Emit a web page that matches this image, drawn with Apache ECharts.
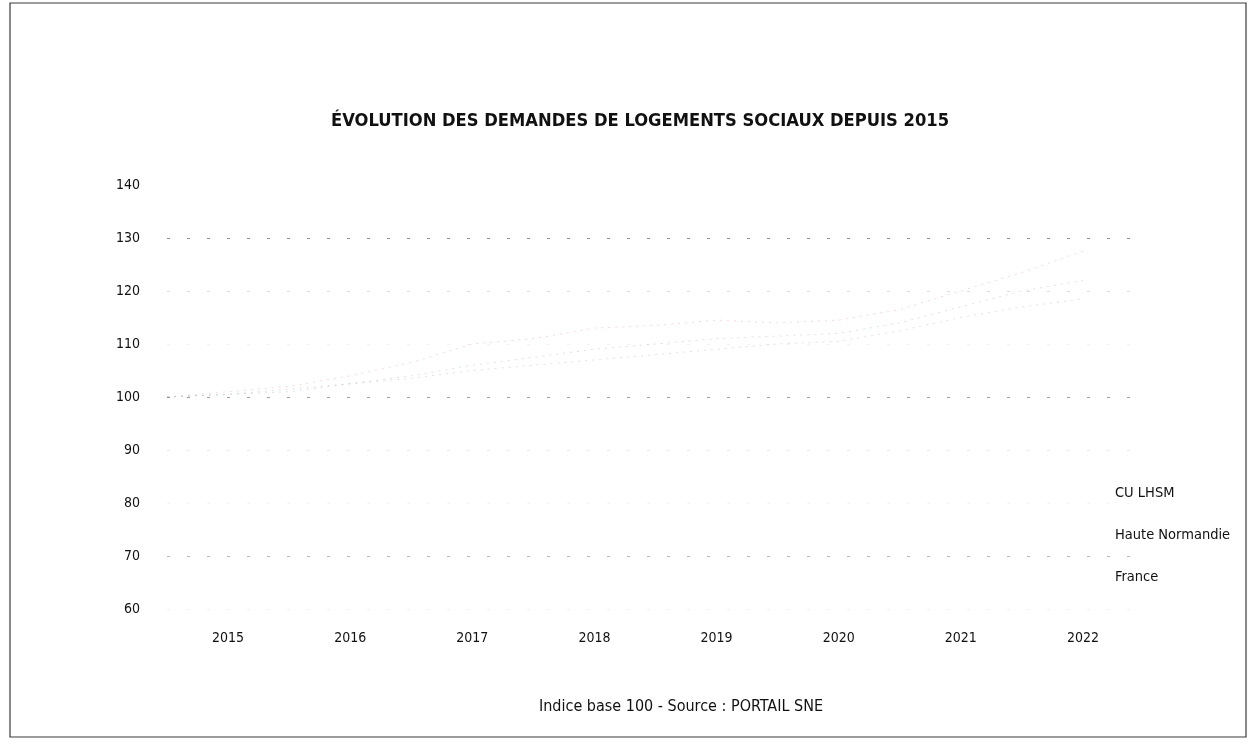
<!DOCTYPE html>
<html>
<head>
<meta charset="utf-8">
<script src="https://cdn.jsdelivr.net/npm/echarts@6/dist/echarts.min.js"></script>
<style>
  html, body { margin: 0; padding: 0; background: #fff; }
  #chart { width: 1250px; height: 754px; }
</style>
</head>
<body>
<div id="chart"></div>
<script>
// Year labels along the bottom axis
const years = ['2015', '2016', '2017', '2018', '2019', '2020', '2021', '2022'];
// Half-year sampling points (decimal years)
const periods = [2015.0, 2015.5, 2016.0, 2016.5, 2017.0, 2017.5, 2018.0, 2018.5,
                 2019.0, 2019.5, 2020.0, 2020.5, 2021.0, 2021.5, 2022.0, 2022.5];
// Index of housing requests, base 100 in 2015
const cuLhsm = [100, 101, 102, 104, 106.5, 110, 111, 113, 113.5, 114.5, 114, 114.5, 116.5, 120, 123.5, 127.5];
const hauteNormandie = [100, 100.5, 101, 102.5, 104, 106, 107.5, 109, 110, 111, 111.5, 112, 114, 117, 120, 122];
const france = [100, 100.5, 101.5, 102.5, 103.5, 105, 106, 107, 108, 109, 110, 110.5, 112.5, 115, 117, 118.5];
const seriesNames = ['CU LHSM', 'Haute Normandie', 'France'];
const yTicks = { min: 60, max: 140, step: 10 };

const FONT = '"Liberation Sans Narrow", "DejaVu Sans Condensed", "Noto Sans", sans-serif';
const pair = vals => periods.map((p, i) => [p, vals[i]]);

const chart = echarts.init(document.getElementById('chart'), null, { renderer: 'canvas' });

const lineStyleFor = color => ({ color: color, width: 1, opacity: 0.22, type: [2, 5] });

chart.setOption({
  backgroundColor: '#ffffff',
  animation: false,
  title: [
    {
      text: 'ÉVOLUTION DES DEMANDES DE LOGEMENTS SOCIAUX DEPUIS 2015',
      left: 326,
      top: 107,
      textStyle: { fontFamily: FONT, fontSize: 18.2, fontWeight: 'bold', color: '#111111' }
    },
    {
      text: 'Indice base 100 - Source : PORTAIL SNE',
      left: 534,
      top: 694,
      textStyle: { fontFamily: FONT, fontSize: 16, fontWeight: 'normal', color: '#111111' }
    }
  ],
  legend: {
    orient: 'vertical',
    left: 1110,
    top: 481,
    itemWidth: 0,
    itemHeight: 0,
    itemGap: 27,
    icon: 'rect',
    data: seriesNames,
    textStyle: { fontFamily: FONT, fontSize: 14.5, color: '#111111', padding: [0, 0, 0, -5] }
  },
  grid: { left: 167, right: 106, top: 185, bottom: 145 },
  xAxis: [
    {
      type: 'category',
      data: years,
      boundaryGap: true,
      axisLine: { show: false },
      axisTick: { show: false },
      splitLine: { show: false },
      axisLabel: { fontFamily: FONT, fontSize: 14, color: '#111111', margin: 22 }
    },
    {
      type: 'value',
      min: 2015,
      max: 2023,
      show: false
    }
  ],
  yAxis: {
    type: 'value',
    min: yTicks.min,
    max: yTicks.max,
    interval: yTicks.step,
    axisLine: { show: false },
    axisTick: { show: false },
    axisLabel: { fontFamily: FONT, fontSize: 14, color: '#111111', margin: 27 },
    splitLine: {
      show: true,
      lineStyle: {
        type: [3, 17],
        width: 1,
        color: ['#f2f2f2', '#b5b5b5', '#f4f4f4', '#e8e8e8', '#9a9a9a', '#f2f2f2', '#dcdcdc', '#8f8f8f', '#ffffff']
      }
    }
  },
  series: [
    {
      name: seriesNames[0], type: 'line', xAxisIndex: 1, data: pair(cuLhsm),
      showSymbol: false, color: '#d9534f', lineStyle: lineStyleFor('#d9534f')
    },
    {
      name: seriesNames[1], type: 'line', xAxisIndex: 1, data: pair(hauteNormandie),
      showSymbol: false, color: '#4a7fc1', lineStyle: lineStyleFor('#4a7fc1')
    },
    {
      name: seriesNames[2], type: 'line', xAxisIndex: 1, data: pair(france),
      showSymbol: false, color: '#7a7a7a', lineStyle: lineStyleFor('#7a7a7a')
    }
  ],
  graphic: [
    {
      type: 'rect',
      shape: { x: 10, y: 3, width: 1236, height: 734 },
      style: { fill: 'none', stroke: '#3a3a3a', lineWidth: 1.2 },
      silent: true
    }
  ]
});
</script>
</body>
</html>
